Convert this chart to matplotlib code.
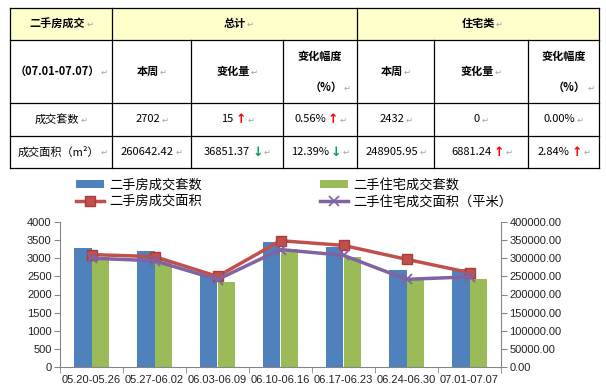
import matplotlib
matplotlib.use('Agg')
import matplotlib.pyplot as plt
from matplotlib.lines import Line2D
from matplotlib.patches import Patch, Rectangle
from matplotlib.ticker import FormatStrFormatter
import numpy as np

plt.rcParams['font.family'] = ['Liberation Sans', 'Noto Sans CJK SC', 'DejaVu Sans']

# ---------------- data ----------------
weeks = ['05.20-05.26', '05.27-06.02', '06.03-06.09', '06.10-06.16',
         '06.17-06.23', '06.24-06.30', '07.01-07.07']
total_count = [3287, 3213, 2535, 3462, 3315, 2687, 2702]
resi_count = [3035, 2955, 2345, 3260, 3040, 2432, 2432]
total_area = [310500, 305000, 250000, 349000, 336000, 297493.79, 260642.42]
resi_area = [300500, 293500, 241500, 324500, 308500, 242024.71, 248905.95]

series_names = ['二手房成交套数', '二手住宅成交套数', '二手房成交面积', '二手住宅成交面积（平米）']
left_ticks = np.arange(0, 4001, 500)
right_ticks = np.arange(0, 400001, 50000)

table_header1 = ['二手房成交', '总计', '住宅类']
table_header2 = ['（07.01-07.07）', '本周', '变化量', '变化幅度', '本周', '变化量', '变化幅度']
row_labels = ['成交套数', '成交面积（m²）']
row_values = [['2702', '15', '0.56%', '2432', '0', '0.00%'],
              ['260642.42', '36851.37', '12.39%', '248905.95', '6881.24', '2.84%']]
row_arrows = [['', 'up', 'up', '', '', ''],
              ['', 'down', 'down', '', 'up', 'up']]

BLUE = '#4F81BD'
GREEN = '#9BBB59'
RED = '#C0504D'
PURPLE = '#8064A2'
AXC = '#868686'

fig = plt.figure(figsize=(6.06, 3.87), dpi=100)

# ---------------- table ----------------
tax = fig.add_axes([0, 0, 1, 1])
tax.set_xlim(0, 606)
tax.set_ylim(387, 0)
tax.axis('off')

cx = [10, 112, 191, 283, 357, 434, 528, 599]
ry = [8, 40, 103, 136, 168]
tax.add_patch(Rectangle((cx[0], ry[0]), cx[-1] - cx[0], ry[1] - ry[0],
                        facecolor='#FFFFCC', edgecolor='none'))
for y in ry:
    tax.plot([cx[0], cx[-1]], [y, y], color='black', lw=0.9)
for x in [cx[0], cx[1], cx[4], cx[-1]]:
    tax.plot([x, x], [ry[0], ry[-1]], color='black', lw=0.9)
for x in [cx[2], cx[3], cx[5], cx[6]]:
    tax.plot([x, x], [ry[1], ry[-1]], color='black', lw=0.9)

FS = 8
tfam = ['Noto Sans CJK SC', 'DejaVu Sans']


def ret_mark(t):
    return tax.annotate('↵', xy=(1, 0.45), xycoords=t, xytext=(1, 0),
                        textcoords='offset points', va='center', ha='left',
                        color='#A0A0A0', fontsize=6, family=tfam)


def cell_text(x, y, s, bold=False, arrow='', ret=True, ha='center'):
    t = tax.text(x, y, s, ha=ha, va='center', fontsize=FS, family=tfam,
                 fontweight='bold' if bold else 'normal', color='black')
    last = t
    if arrow:
        sym = '↑' if arrow == 'up' else '↓'
        col = '#FF0000' if arrow == 'up' else '#00A050'
        last = tax.annotate(sym, xy=(1, 0.5), xycoords=t, xytext=(1.5, 0),
                            textcoords='offset points', va='center', ha='left',
                            color=col, fontsize=9, fontweight='bold',
                            family=['DejaVu Sans'])
    if ret:
        ret_mark(last)
    return t


ymid1 = (ry[0] + ry[1]) / 2
cell_text((cx[0] + cx[1]) / 2 - 4, ymid1, table_header1[0], bold=True)
cell_text((cx[1] + cx[4]) / 2, ymid1, table_header1[1], bold=True)
cell_text((cx[4] + cx[-1]) / 2, ymid1, table_header1[2], bold=True)

ymid2 = (ry[1] + ry[2]) / 2
for i, s in enumerate(table_header2):
    xc = (cx[i] + cx[i + 1]) / 2
    if s == '变化幅度':
        cell_text(xc, ymid2 - 15, s, bold=True, ret=False)
        cell_text(xc + 6, ymid2 + 16, '（%）', bold=True)
    else:
        cell_text(xc - 4, ymid2, s, bold=True)

for r in range(2):
    ym = (ry[r + 2] + ry[r + 3]) / 2
    if r == 0:
        cell_text((cx[0] + cx[1]) / 2 - 4, ym, row_labels[r])
    else:
        cell_text(cx[0] + 8, ym, row_labels[r], ha='left')
    for j in range(6):
        xc = (cx[j + 1] + cx[j + 2]) / 2
        off = -10 if row_arrows[r][j] else -4
        cell_text(xc + off, ym, row_values[r][j], arrow=row_arrows[r][j])

# ---------------- chart ----------------
ax = fig.add_axes([60 / 606, 20.3 / 387, 441 / 606, 144.4 / 387])
ax.set_facecolor('none')
x = np.arange(len(weeks))
bw = 0.285
ax.bar(x - bw / 2, total_count, width=bw, color=BLUE, zorder=2)
ax.bar(x + bw / 2, resi_count, width=bw, color=GREEN, zorder=2)
ax.set_xlim(-0.5, len(weeks) - 0.5)
ax.set_ylim(0, 4000)
ax.set_yticks(left_ticks)
ax.set_xticks(x)
ax.set_xticklabels(weeks)
ax.set_xticks(np.arange(-0.5, len(weeks), 1), minor=True)
ax.tick_params(axis='x', which='major', length=0, labelsize=8, pad=6, labelcolor='#222222')
ax.tick_params(axis='x', which='minor', length=4, direction='out', color=AXC)
ax.tick_params(axis='y', length=4, direction='out', color=AXC, labelsize=8, pad=2,
               labelcolor='#222222')
for s in ['top', 'right']:
    ax.spines[s].set_visible(False)
for s in ['left', 'bottom']:
    ax.spines[s].set_color(AXC)

ax2 = ax.twinx()
ax2.plot(x, total_area, color=RED, lw=2.5, marker='s', markersize=7,
         markerfacecolor=RED, markeredgecolor='#B03A37', zorder=3)
ax2.plot(x, resi_area, color=PURPLE, lw=2.5, marker='x', markersize=7,
         markeredgewidth=1.3, zorder=3)
ax2.set_ylim(0, 400000)
ax2.set_yticks(right_ticks)
ax2.yaxis.set_major_formatter(FormatStrFormatter('%.2f'))
ax2.tick_params(axis='y', length=4, direction='out', color=AXC, labelsize=8, pad=2,
                labelcolor='#222222')
for s in ['top', 'left', 'bottom']:
    ax2.spines[s].set_visible(False)
ax2.spines['right'].set_color(AXC)

# ---------------- legend ----------------
h_blue = Patch(facecolor=BLUE, edgecolor='none')
h_green = Patch(facecolor=GREEN, edgecolor='none')
h_red = Line2D([], [], color=RED, lw=2.5, marker='s', markersize=7,
               markerfacecolor=RED, markeredgecolor='#B03A37')
h_purple = Line2D([], [], color=PURPLE, lw=2.5, marker='x', markersize=7,
                  markeredgewidth=1.3)
kw = dict(loc='upper left', frameon=False, fontsize=9.5, handlelength=2.1,
          handleheight=0.6, labelspacing=0.3, borderpad=0, handletextpad=0.4,
          borderaxespad=0)
fig.legend([h_blue, h_red], [series_names[0], series_names[2]],
           bbox_to_anchor=(76 / 606, 1 - 179 / 387), **kw)
fig.legend([h_green, h_purple], [series_names[1], series_names[3]],
           bbox_to_anchor=(320 / 606, 1 - 179 / 387), **kw)

fig.savefig('out.png', dpi=100, facecolor='white')
